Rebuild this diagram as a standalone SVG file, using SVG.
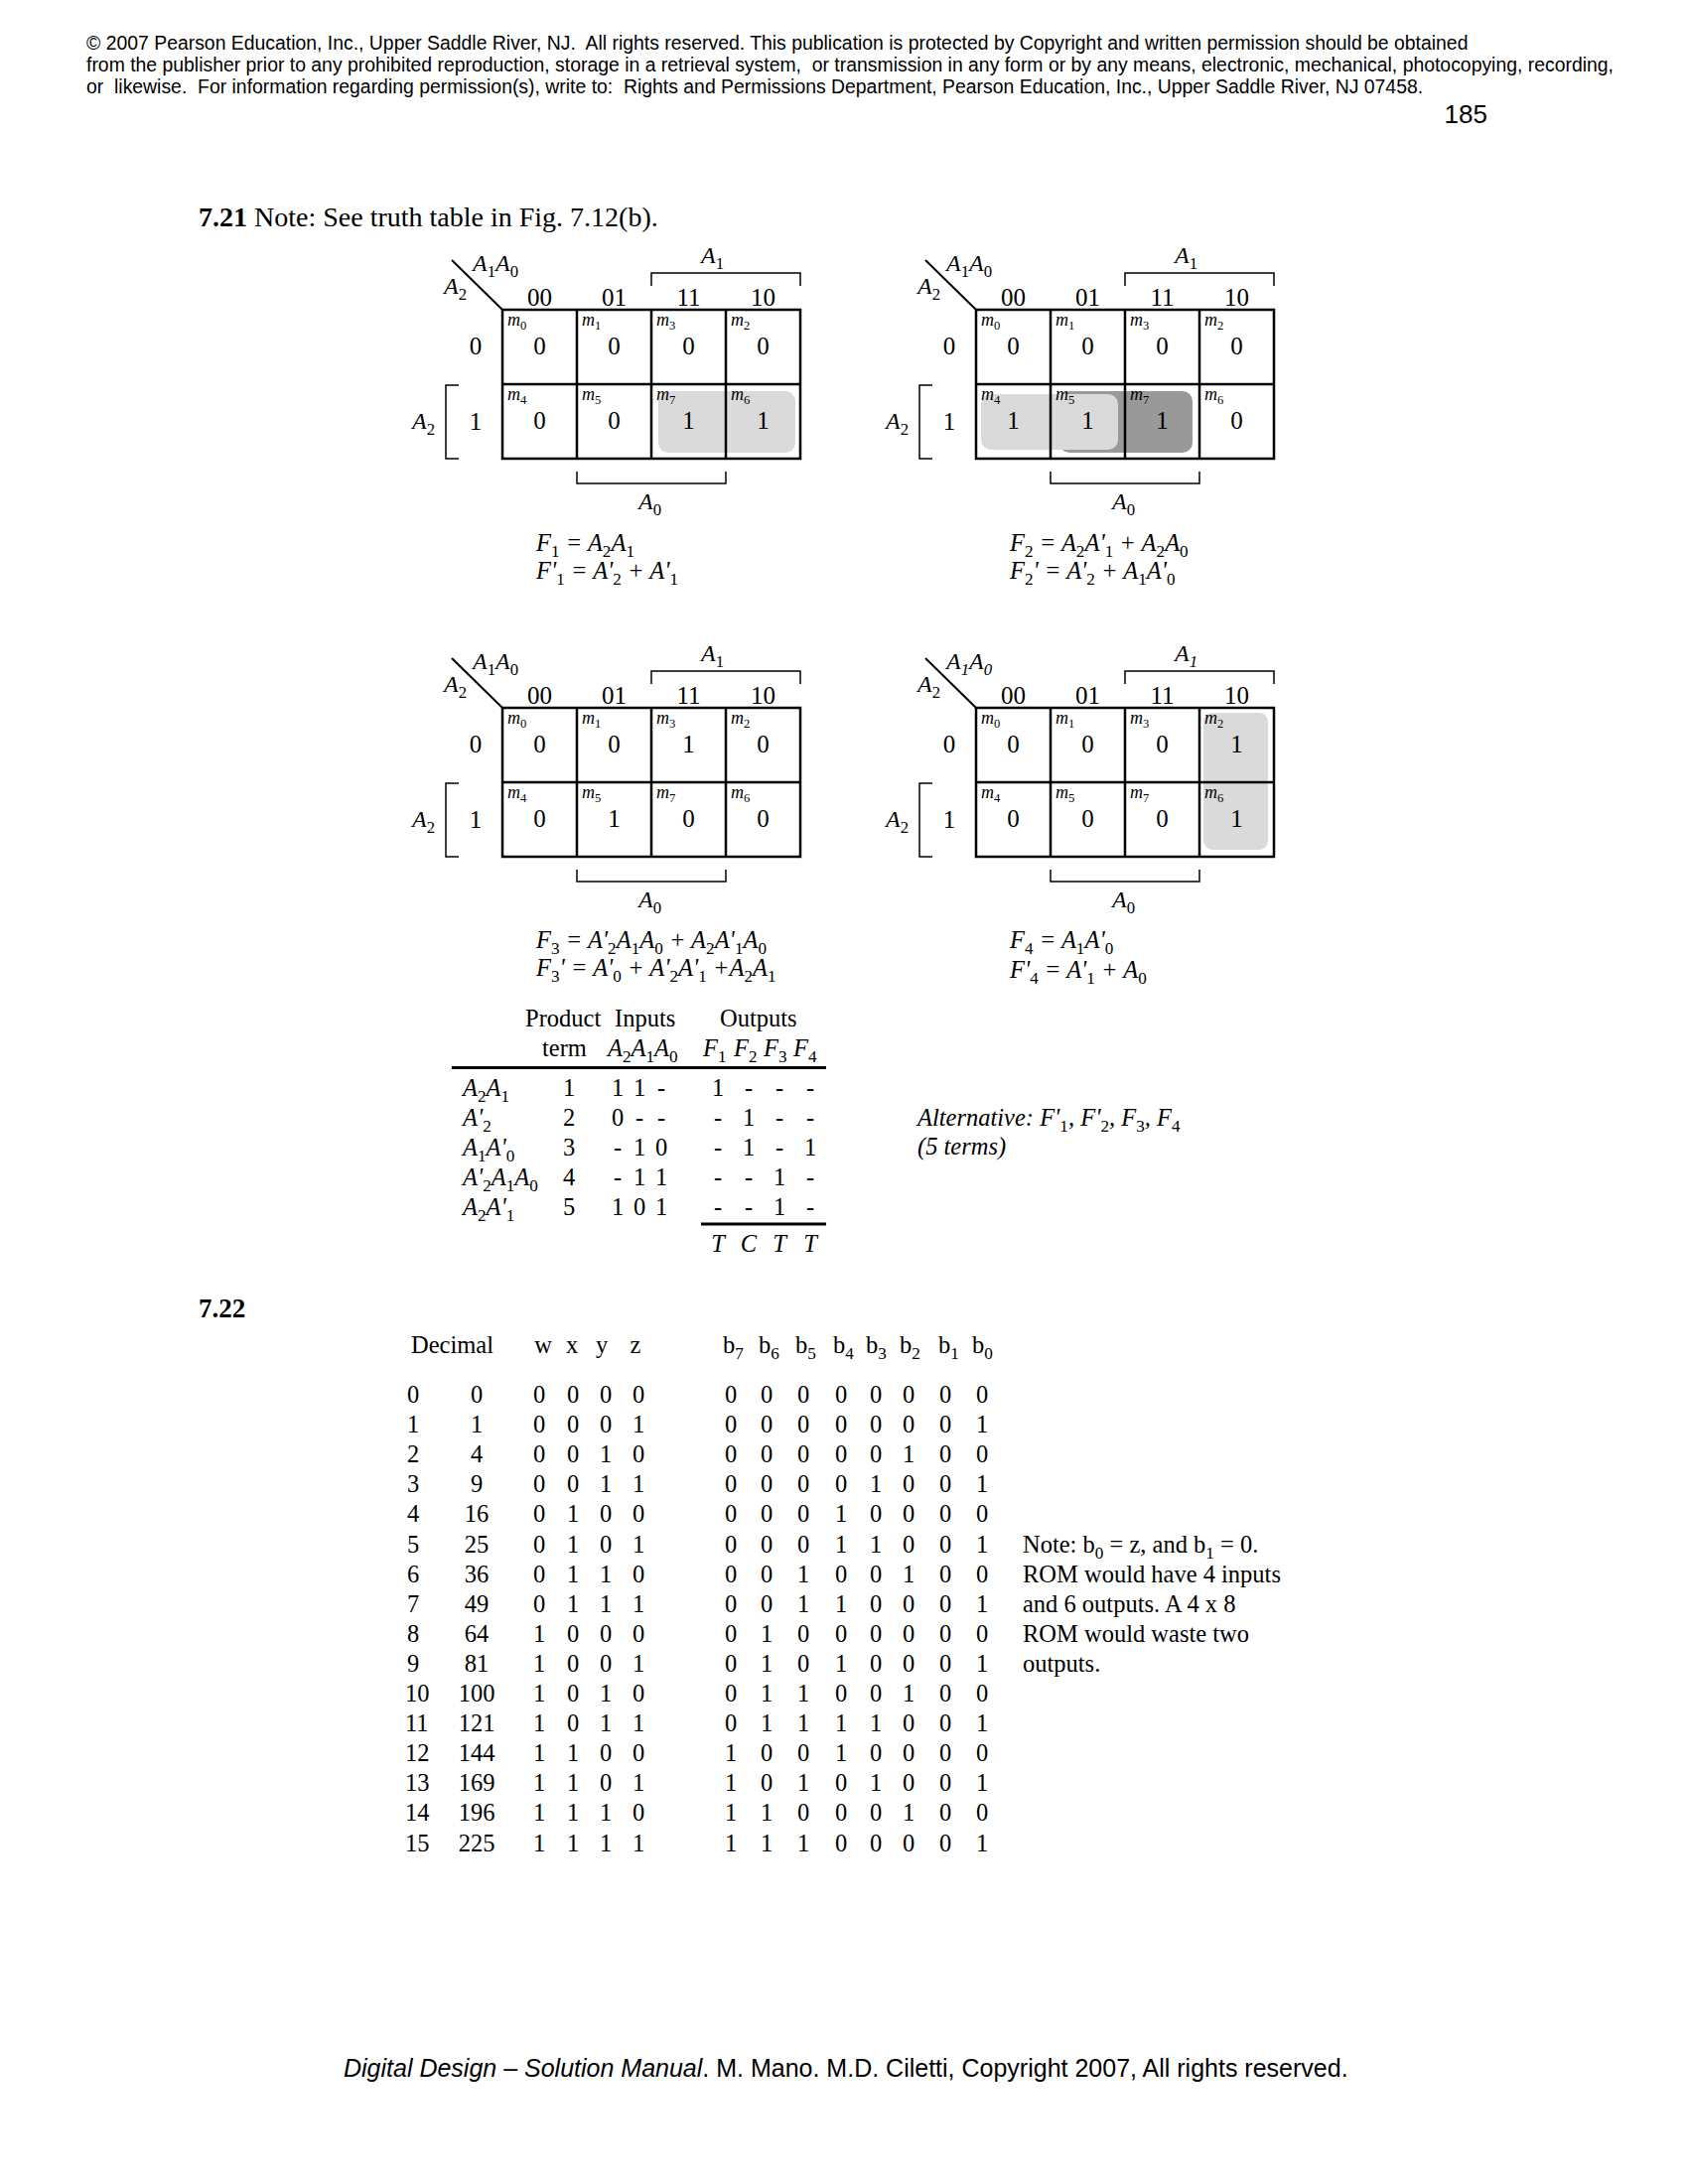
<svg xmlns="http://www.w3.org/2000/svg" width="1700" height="2200" viewBox="0 0 1700 2200">
<style>
text { font-family: "Liberation Serif", "Times New Roman", serif; fill: #000; }
.sans { font-family: "Liberation Sans", Arial, sans-serif; }
.hdr { font-size: 19.4px; white-space: pre; }
.it { font-style: italic; }
.b { font-weight: bold; }
.sb { font-style: normal; font-size: 0.7em; }
.sbi { font-style: italic; font-size: 0.7em; }
.c { text-anchor: middle; }
.lab { font-size: 24px; }
.num { font-size: 25px; }
.mm { font-size: 18px; font-style: italic; }
.eq { font-size: 24.5px; font-style: italic; }
.tb { font-size: 24.5px; }
.grid { fill: none; stroke: #000; stroke-width: 2.5; }
.diag { fill: none; stroke: #000; stroke-width: 2; }
.br { fill: none; stroke: #000; stroke-width: 1.5; }
.rule { stroke: #000; stroke-width: 3; }
.shL { fill: #dadada; }
.shD { fill: #999999; }
</style>
<rect width="1700" height="2200" fill="#fff"/>

<g id="page-header">
<text class="sans hdr" x="87" y="50">© 2007 Pearson Education, Inc., Upper Saddle River, NJ.  All rights reserved. This publication is protected by Copyright and written permission should be obtained</text>
<text class="sans hdr" x="87" y="72">from the publisher prior to any prohibited reproduction, storage in a retrieval system,  or transmission in any form or by any means, electronic, mechanical, photocopying, recording,</text>
<text class="sans hdr" x="87" y="94">or  likewise.  For information regarding permission(s), write to:  Rights and Permissions Department, Pearson Education, Inc., Upper Saddle River, NJ 07458.</text>
<text class="sans" x="1498" y="124" font-size="26" text-anchor="end">185</text>
</g>

<g id="title-721">
<text x="200" y="228" font-size="28"><tspan class="b">7.21</tspan> Note: See truth table in Fig. 7.12(b).</text>
</g>

<!-- K-map 1 : F1 -->
<g id="kmap1">
<rect class="shL" x="663" y="394" width="138" height="62" rx="10"/>
<rect class="grid" x="506" y="312" width="300" height="150"/>
<path class="grid" d="M581,312V462M656,312V462M731,312V462M506,387H806"/>
<path class="diag" d="M455,262L506,312"/>
<path class="br" d="M656,288V275H806V288"/>
<path class="br" d="M462,388H449V462H462"/>
<path class="br" d="M581,475V487H731V475"/>
<text class="it lab" x="476" y="273">A<tspan class="sb" dy="6">1</tspan><tspan dy="-6">A</tspan><tspan class="sb" dy="6">0</tspan></text>
<text class="it lab" x="447" y="296">A<tspan class="sb" dy="6">2</tspan></text>
<text class="it lab" x="706" y="265">A<tspan class="sb" dy="6">1</tspan></text>
<text class="num c" x="543.5" y="308">00</text>
<text class="num c" x="618.5" y="308">01</text>
<text class="num c" x="693.5" y="308">11</text>
<text class="num c" x="768.5" y="308">10</text>
<text class="num c" x="479" y="357">0</text>
<text class="num c" x="479" y="433">1</text>
<text class="it lab" x="415" y="432">A<tspan class="sb" dy="6">2</tspan></text>
<text class="mm" x="511" y="328">m<tspan class="sb" dy="4">0</tspan></text>
<text class="mm" x="586" y="328">m<tspan class="sb" dy="4">1</tspan></text>
<text class="mm" x="661" y="328">m<tspan class="sb" dy="4">3</tspan></text>
<text class="mm" x="736" y="328">m<tspan class="sb" dy="4">2</tspan></text>
<text class="mm" x="511" y="403">m<tspan class="sb" dy="4">4</tspan></text>
<text class="mm" x="586" y="403">m<tspan class="sb" dy="4">5</tspan></text>
<text class="mm" x="661" y="403">m<tspan class="sb" dy="4">7</tspan></text>
<text class="mm" x="736" y="403">m<tspan class="sb" dy="4">6</tspan></text>
<text class="num c" x="543.5 618.5 693.5 768.5" y="357">0000</text>
<text class="num c" x="543.5 618.5 693.5 768.5" y="432">0011</text>
<text class="it lab" x="643" y="513">A<tspan class="sb" dy="6">0</tspan></text>
<text class="eq" x="540" y="555">F<tspan class="sb" dy="6">1</tspan><tspan dy="-6"> = A</tspan><tspan class="sb" dy="6">2</tspan><tspan dy="-6">A</tspan><tspan class="sb" dy="6">1</tspan></text>
<text class="eq" x="540" y="583">F'<tspan class="sb" dy="6">1</tspan><tspan dy="-6"> = A'</tspan><tspan class="sb" dy="6">2</tspan><tspan dy="-6"> + A'</tspan><tspan class="sb" dy="6">1</tspan></text>
</g>

<!-- K-map 2 : F2 -->
<g id="kmap2" transform="translate(477,0)">
<rect class="shD" x="590" y="394" width="134" height="62" rx="10"/>
<rect class="shL" x="511" y="397" width="138" height="56" rx="10"/>
<rect class="grid" x="506" y="312" width="300" height="150"/>
<path class="grid" d="M581,312V462M656,312V462M731,312V462M506,387H806"/>
<path class="diag" d="M455,262L506,312"/>
<path class="br" d="M656,288V275H806V288"/>
<path class="br" d="M462,388H449V462H462"/>
<path class="br" d="M581,475V487H731V475"/>
<text class="it lab" x="476" y="273">A<tspan class="sb" dy="6">1</tspan><tspan dy="-6">A</tspan><tspan class="sb" dy="6">0</tspan></text>
<text class="it lab" x="447" y="296">A<tspan class="sb" dy="6">2</tspan></text>
<text class="it lab" x="706" y="265">A<tspan class="sb" dy="6">1</tspan></text>
<text class="num c" x="543.5" y="308">00</text>
<text class="num c" x="618.5" y="308">01</text>
<text class="num c" x="693.5" y="308">11</text>
<text class="num c" x="768.5" y="308">10</text>
<text class="num c" x="479" y="357">0</text>
<text class="num c" x="479" y="433">1</text>
<text class="it lab" x="415" y="432">A<tspan class="sb" dy="6">2</tspan></text>
<text class="mm" x="511" y="328">m<tspan class="sb" dy="4">0</tspan></text>
<text class="mm" x="586" y="328">m<tspan class="sb" dy="4">1</tspan></text>
<text class="mm" x="661" y="328">m<tspan class="sb" dy="4">3</tspan></text>
<text class="mm" x="736" y="328">m<tspan class="sb" dy="4">2</tspan></text>
<text class="mm" x="511" y="403">m<tspan class="sb" dy="4">4</tspan></text>
<text class="mm" x="586" y="403">m<tspan class="sb" dy="4">5</tspan></text>
<text class="mm" x="661" y="403">m<tspan class="sb" dy="4">7</tspan></text>
<text class="mm" x="736" y="403">m<tspan class="sb" dy="4">6</tspan></text>
<text class="num c" x="543.5 618.5 693.5 768.5" y="357">0000</text>
<text class="num c" x="543.5 618.5 693.5 768.5" y="432">1110</text>
<text class="it lab" x="643" y="513">A<tspan class="sb" dy="6">0</tspan></text>
<text class="eq" x="540" y="555">F<tspan class="sb" dy="6">2</tspan><tspan dy="-6"> = A</tspan><tspan class="sb" dy="6">2</tspan><tspan dy="-6">A'</tspan><tspan class="sb" dy="6">1</tspan><tspan dy="-6"> + A</tspan><tspan class="sb" dy="6">2</tspan><tspan dy="-6">A</tspan><tspan class="sb" dy="6">0</tspan></text>
<text class="eq" x="540" y="583">F<tspan class="sb" dy="6">2</tspan><tspan dy="-6">' = A'</tspan><tspan class="sb" dy="6">2</tspan><tspan dy="-6"> + A</tspan><tspan class="sb" dy="6">1</tspan><tspan dy="-6">A'</tspan><tspan class="sb" dy="6">0</tspan></text>
</g>

<!-- K-map 3 : F3 -->
<g id="kmap3" transform="translate(0,401)">
<rect class="grid" x="506" y="312" width="300" height="150"/>
<path class="grid" d="M581,312V462M656,312V462M731,312V462M506,387H806"/>
<path class="diag" d="M455,262L506,312"/>
<path class="br" d="M656,288V275H806V288"/>
<path class="br" d="M462,388H449V462H462"/>
<path class="br" d="M581,475V487H731V475"/>
<text class="it lab" x="476" y="273">A<tspan class="sb" dy="6">1</tspan><tspan dy="-6">A</tspan><tspan class="sb" dy="6">0</tspan></text>
<text class="it lab" x="447" y="296">A<tspan class="sb" dy="6">2</tspan></text>
<text class="it lab" x="706" y="265">A<tspan class="sb" dy="6">1</tspan></text>
<text class="num c" x="543.5" y="308">00</text>
<text class="num c" x="618.5" y="308">01</text>
<text class="num c" x="693.5" y="308">11</text>
<text class="num c" x="768.5" y="308">10</text>
<text class="num c" x="479" y="357">0</text>
<text class="num c" x="479" y="433">1</text>
<text class="it lab" x="415" y="432">A<tspan class="sb" dy="6">2</tspan></text>
<text class="mm" x="511" y="328">m<tspan class="sb" dy="4">0</tspan></text>
<text class="mm" x="586" y="328">m<tspan class="sb" dy="4">1</tspan></text>
<text class="mm" x="661" y="328">m<tspan class="sb" dy="4">3</tspan></text>
<text class="mm" x="736" y="328">m<tspan class="sb" dy="4">2</tspan></text>
<text class="mm" x="511" y="403">m<tspan class="sb" dy="4">4</tspan></text>
<text class="mm" x="586" y="403">m<tspan class="sb" dy="4">5</tspan></text>
<text class="mm" x="661" y="403">m<tspan class="sb" dy="4">7</tspan></text>
<text class="mm" x="736" y="403">m<tspan class="sb" dy="4">6</tspan></text>
<text class="num c" x="543.5 618.5 693.5 768.5" y="357">0010</text>
<text class="num c" x="543.5 618.5 693.5 768.5" y="432">0100</text>
<text class="it lab" x="643" y="513">A<tspan class="sb" dy="6">0</tspan></text>
<text class="eq" x="540" y="554">F<tspan class="sb" dy="6">3</tspan><tspan dy="-6"> = A'</tspan><tspan class="sb" dy="6">2</tspan><tspan dy="-6">A</tspan><tspan class="sb" dy="6">1</tspan><tspan dy="-6">A</tspan><tspan class="sb" dy="6">0</tspan><tspan dy="-6"> + A</tspan><tspan class="sb" dy="6">2</tspan><tspan dy="-6">A'</tspan><tspan class="sb" dy="6">1</tspan><tspan dy="-6">A</tspan><tspan class="sb" dy="6">0</tspan></text>
<text class="eq" x="540" y="582">F<tspan class="sb" dy="6">3</tspan><tspan dy="-6">' = A'</tspan><tspan class="sb" dy="6">0</tspan><tspan dy="-6"> + A'</tspan><tspan class="sb" dy="6">2</tspan><tspan dy="-6">A'</tspan><tspan class="sb" dy="6">1</tspan><tspan dy="-6"> +A</tspan><tspan class="sb" dy="6">2</tspan><tspan dy="-6">A</tspan><tspan class="sb" dy="6">1</tspan></text>
</g>

<!-- K-map 4 : F4 -->
<g id="kmap4" transform="translate(477,401)">
<rect class="shL" x="735" y="317" width="65" height="138" rx="9"/>
<rect class="grid" x="506" y="312" width="300" height="150"/>
<path class="grid" d="M581,312V462M656,312V462M731,312V462M506,387H806"/>
<path class="diag" d="M455,262L506,312"/>
<path class="br" d="M656,288V275H806V288"/>
<path class="br" d="M462,388H449V462H462"/>
<path class="br" d="M581,475V487H731V475"/>
<text class="it lab" x="476" y="273">A<tspan class="sbi" dy="6">1</tspan><tspan dy="-6">A</tspan><tspan class="sbi" dy="6">0</tspan></text>
<text class="it lab" x="447" y="296">A<tspan class="sb" dy="6">2</tspan></text>
<text class="it lab" x="706" y="265">A<tspan class="sbi" dy="6">1</tspan></text>
<text class="num c" x="543.5" y="308">00</text>
<text class="num c" x="618.5" y="308">01</text>
<text class="num c" x="693.5" y="308">11</text>
<text class="num c" x="768.5" y="308">10</text>
<text class="num c" x="479" y="357">0</text>
<text class="num c" x="479" y="433">1</text>
<text class="it lab" x="415" y="432">A<tspan class="sb" dy="6">2</tspan></text>
<text class="mm" x="511" y="328">m<tspan class="sb" dy="4">0</tspan></text>
<text class="mm" x="586" y="328">m<tspan class="sb" dy="4">1</tspan></text>
<text class="mm" x="661" y="328">m<tspan class="sb" dy="4">3</tspan></text>
<text class="mm" x="736" y="328">m<tspan class="sb" dy="4">2</tspan></text>
<text class="mm" x="511" y="403">m<tspan class="sb" dy="4">4</tspan></text>
<text class="mm" x="586" y="403">m<tspan class="sb" dy="4">5</tspan></text>
<text class="mm" x="661" y="403">m<tspan class="sb" dy="4">7</tspan></text>
<text class="mm" x="736" y="403">m<tspan class="sb" dy="4">6</tspan></text>
<text class="num c" x="543.5 618.5 693.5 768.5" y="357">0001</text>
<text class="num c" x="543.5 618.5 693.5 768.5" y="432">0001</text>
<text class="it lab" x="643" y="513">A<tspan class="sb" dy="6">0</tspan></text>
<text class="eq" x="540" y="554">F<tspan class="sb" dy="6">4</tspan><tspan dy="-6"> = A</tspan><tspan class="sb" dy="6">1</tspan><tspan dy="-6">A'</tspan><tspan class="sb" dy="6">0</tspan></text>
<text class="eq" x="540" y="584">F'<tspan class="sb" dy="6">4</tspan><tspan dy="-6"> = A'</tspan><tspan class="sb" dy="6">1</tspan><tspan dy="-6"> + A</tspan><tspan class="sb" dy="6">0</tspan></text>
</g>

<!-- PLA programming table -->
<g id="pla-table">
<text class="tb" x="529" y="1034">Product</text>
<text class="tb" x="619" y="1034">Inputs</text>
<text class="tb" x="725" y="1034">Outputs</text>
<text class="tb" x="546" y="1064">term</text>
<text class="tb it" x="612" y="1064">A<tspan class="sb" dy="6">2</tspan><tspan dy="-6">A</tspan><tspan class="sb" dy="6">1</tspan><tspan dy="-6">A</tspan><tspan class="sb" dy="6">0</tspan></text>
<text class="tb it" x="708" y="1064">F<tspan class="sb" dy="6">1</tspan></text>
<text class="tb it" x="739" y="1064">F<tspan class="sb" dy="6">2</tspan></text>
<text class="tb it" x="769" y="1064">F<tspan class="sb" dy="6">3</tspan></text>
<text class="tb it" x="799" y="1064">F<tspan class="sb" dy="6">4</tspan></text>
<line class="rule" x1="455" y1="1075.5" x2="832" y2="1075.5"/>
<text class="tb it" x="466" y="1104">A<tspan class="sb" dy="6">2</tspan><tspan dy="-6">A</tspan><tspan class="sb" dy="6">1</tspan></text>
<text class="tb it" x="466" y="1134">A'<tspan class="sb" dy="6">2</tspan></text>
<text class="tb it" x="466" y="1164">A<tspan class="sb" dy="6">1</tspan><tspan dy="-6">A'</tspan><tspan class="sb" dy="6">0</tspan></text>
<text class="tb it" x="466" y="1194">A'<tspan class="sb" dy="6">2</tspan><tspan dy="-6">A</tspan><tspan class="sb" dy="6">1</tspan><tspan dy="-6">A</tspan><tspan class="sb" dy="6">0</tspan></text>
<text class="tb it" x="466" y="1224">A<tspan class="sb" dy="6">2</tspan><tspan dy="-6">A'</tspan><tspan class="sb" dy="6">1</tspan></text>
<text class="tb c" x="573" y="1104">1</text>
<text class="tb c" x="573" y="1134">2</text>
<text class="tb c" x="573" y="1164">3</text>
<text class="tb c" x="573" y="1194">4</text>
<text class="tb c" x="573" y="1224">5</text>
<text class="tb c" x="622 644 666" y="1104">11-</text>
<text class="tb c" x="622 644 666" y="1134">0--</text>
<text class="tb c" x="622 644 666" y="1164">-10</text>
<text class="tb c" x="622 644 666" y="1194">-11</text>
<text class="tb c" x="622 644 666" y="1224">101</text>
<text class="tb c" x="723 754 785 816" y="1104">1---</text>
<text class="tb c" x="723 754 785 816" y="1134">-1--</text>
<text class="tb c" x="723 754 785 816" y="1164">-1-1</text>
<text class="tb c" x="723 754 785 816" y="1194">--1-</text>
<text class="tb c" x="723 754 785 816" y="1224">--1-</text>
<line class="rule" x1="706" y1="1233" x2="832" y2="1233"/>
<text class="tb it c" x="723 754 785 816" y="1261">TCTT</text>
</g>

<g id="alternative-note">
<text class="tb it" x="924" y="1134">Alternative: F'<tspan class="sb" dy="6">1</tspan><tspan dy="-6">, F'</tspan><tspan class="sb" dy="6">2</tspan><tspan dy="-6">, F</tspan><tspan class="sb" dy="6">3</tspan><tspan dy="-6">, F</tspan><tspan class="sb" dy="6">4</tspan></text>
<text class="tb it" x="924" y="1163">(5 terms)</text>
</g>

<g id="title-722">
<text class="b" x="200" y="1327" font-size="27">7.22</text>
</g>

<!-- 7.22 ROM truth table -->
<g id="rom-table">
<text class="tb" x="414" y="1363">Decimal</text>
<text class="tb c" x="547 576 606 640" y="1363">wxyz</text>
<text class="tb" x="728" y="1363">b<tspan class="sb" dy="6">7</tspan></text>
<text class="tb" x="764" y="1363">b<tspan class="sb" dy="6">6</tspan></text>
<text class="tb" x="801" y="1363">b<tspan class="sb" dy="6">5</tspan></text>
<text class="tb" x="839" y="1363">b<tspan class="sb" dy="6">4</tspan></text>
<text class="tb" x="872" y="1363">b<tspan class="sb" dy="6">3</tspan></text>
<text class="tb" x="906" y="1363">b<tspan class="sb" dy="6">2</tspan></text>
<text class="tb" x="945" y="1363">b<tspan class="sb" dy="6">1</tspan></text>
<text class="tb" x="979" y="1363">b<tspan class="sb" dy="6">0</tspan></text>

<text class="tb" x="410" y="1413">0</text><text class="tb c" x="480" y="1413">0</text><text class="tb c" x="543 577 610 643" y="1413">0000</text><text class="tb c" x="736 772 809 847 882 915 952 989" y="1413">00000000</text>
<text class="tb" x="410" y="1443">1</text><text class="tb c" x="480" y="1443">1</text><text class="tb c" x="543 577 610 643" y="1443">0001</text><text class="tb c" x="736 772 809 847 882 915 952 989" y="1443">00000001</text>
<text class="tb" x="410" y="1473">2</text><text class="tb c" x="480" y="1473">4</text><text class="tb c" x="543 577 610 643" y="1473">0010</text><text class="tb c" x="736 772 809 847 882 915 952 989" y="1473">00000100</text>
<text class="tb" x="410" y="1503">3</text><text class="tb c" x="480" y="1503">9</text><text class="tb c" x="543 577 610 643" y="1503">0011</text><text class="tb c" x="736 772 809 847 882 915 952 989" y="1503">00001001</text>
<text class="tb" x="410" y="1533">4</text><text class="tb c" x="480" y="1533">16</text><text class="tb c" x="543 577 610 643" y="1533">0100</text><text class="tb c" x="736 772 809 847 882 915 952 989" y="1533">00010000</text>
<text class="tb" x="410" y="1563.5">5</text><text class="tb c" x="480" y="1563.5">25</text><text class="tb c" x="543 577 610 643" y="1563.5">0101</text><text class="tb c" x="736 772 809 847 882 915 952 989" y="1563.5">00011001</text>
<text class="tb" x="410" y="1593.6">6</text><text class="tb c" x="480" y="1593.6">36</text><text class="tb c" x="543 577 610 643" y="1593.6">0110</text><text class="tb c" x="736 772 809 847 882 915 952 989" y="1593.6">00100100</text>
<text class="tb" x="410" y="1623.7">7</text><text class="tb c" x="480" y="1623.7">49</text><text class="tb c" x="543 577 610 643" y="1623.7">0111</text><text class="tb c" x="736 772 809 847 882 915 952 989" y="1623.7">00110001</text>
<text class="tb" x="410" y="1653.8">8</text><text class="tb c" x="480" y="1653.8">64</text><text class="tb c" x="543 577 610 643" y="1653.8">1000</text><text class="tb c" x="736 772 809 847 882 915 952 989" y="1653.8">01000000</text>
<text class="tb" x="410" y="1683.9">9</text><text class="tb c" x="480" y="1683.9">81</text><text class="tb c" x="543 577 610 643" y="1683.9">1001</text><text class="tb c" x="736 772 809 847 882 915 952 989" y="1683.9">01010001</text>
<text class="tb" x="408" y="1714">10</text><text class="tb c" x="480" y="1714">100</text><text class="tb c" x="543 577 610 643" y="1714">1010</text><text class="tb c" x="736 772 809 847 882 915 952 989" y="1714">01100100</text>
<text class="tb" x="408" y="1744.1">11</text><text class="tb c" x="480" y="1744.1">121</text><text class="tb c" x="543 577 610 643" y="1744.1">1011</text><text class="tb c" x="736 772 809 847 882 915 952 989" y="1744.1">01111001</text>
<text class="tb" x="408" y="1774.2">12</text><text class="tb c" x="480" y="1774.2">144</text><text class="tb c" x="543 577 610 643" y="1774.2">1100</text><text class="tb c" x="736 772 809 847 882 915 952 989" y="1774.2">10010000</text>
<text class="tb" x="408" y="1804.3">13</text><text class="tb c" x="480" y="1804.3">169</text><text class="tb c" x="543 577 610 643" y="1804.3">1101</text><text class="tb c" x="736 772 809 847 882 915 952 989" y="1804.3">10101001</text>
<text class="tb" x="408" y="1834.4">14</text><text class="tb c" x="480" y="1834.4">196</text><text class="tb c" x="543 577 610 643" y="1834.4">1110</text><text class="tb c" x="736 772 809 847 882 915 952 989" y="1834.4">11000100</text>
<text class="tb" x="408" y="1864.5">15</text><text class="tb c" x="480" y="1864.5">225</text><text class="tb c" x="543 577 610 643" y="1864.5">1111</text><text class="tb c" x="736 772 809 847 882 915 952 989" y="1864.5">11100001</text>
</g>

<g id="rom-note">
<text class="tb" x="1030" y="1564">Note: b<tspan class="sb" dy="6">0</tspan><tspan dy="-6"> = z, and b</tspan><tspan class="sb" dy="6">1</tspan><tspan dy="-6"> = 0.</tspan></text>
<text class="tb" x="1030" y="1594">ROM would have 4 inputs</text>
<text class="tb" x="1030" y="1624">and 6 outputs. A 4 x 8</text>
<text class="tb" x="1030" y="1654">ROM would waste two</text>
<text class="tb" x="1030" y="1684">outputs.</text>
</g>

<g id="page-footer">
<text class="sans" x="346" y="2092" font-size="25"><tspan class="it">Digital Design – Solution Manual</tspan>. M. Mano. M.D. Ciletti, Copyright 2007, All rights reserved.</text>
</g>
</svg>
